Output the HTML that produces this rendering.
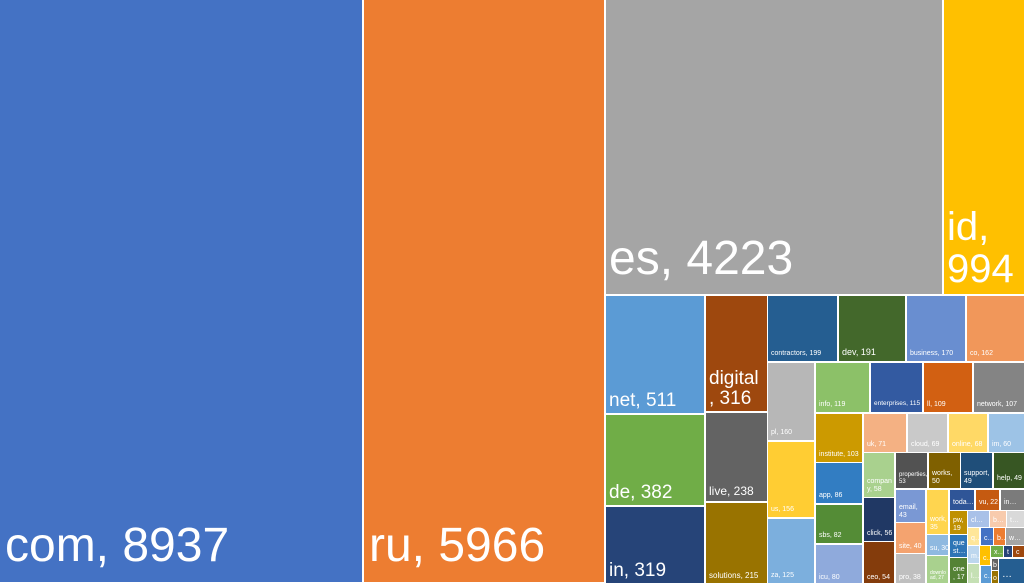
<!DOCTYPE html>
<html><head><meta charset="utf-8"><style>
body{margin:0;background:#fff;}
#c{position:relative;width:1024px;height:583px;overflow:hidden;background:#fff;font-family:"Liberation Sans",sans-serif;}
.r{position:absolute;box-sizing:border-box;color:#fff;display:flex;align-items:flex-end;padding:0 0 1px 3px;line-height:1.05;overflow:hidden;font-size:7px;white-space:nowrap;}
</style></head><body><div id="c">
<div class="r" style="left:0;top:0;width:362px;height:582px;background:#4472C4;font-size:48px;padding-left:5px;padding-bottom:11px">com, 8937</div>
<div class="r" style="left:364px;top:0;width:240px;height:582px;background:#ED7D31;font-size:48px;padding-left:5px;padding-bottom:11px">ru, 5966</div>
<div class="r" style="left:606px;top:0;width:336px;height:294px;background:#A5A5A5;font-size:48px;padding-left:3px;padding-bottom:10px">es, 4223</div>
<div class="r" style="left:944px;top:0;width:80px;height:294px;background:#FFC000;font-size:40px;padding-left:3px;padding-bottom:4px">id,<br>994</div>
<div class="r" style="left:606px;top:296px;width:98px;height:117px;background:#5B9BD5;font-size:19px;padding-bottom:2px">net, 511</div>
<div class="r" style="left:606px;top:415px;width:98px;height:90px;background:#70AD47;font-size:19px;padding-bottom:2px">de, 382</div>
<div class="r" style="left:606px;top:507px;width:98px;height:76px;background:#264478;font-size:19px;padding-bottom:2px">in, 319</div>
<div class="r" style="left:706px;top:296px;width:61px;height:115px;background:#9E480E;font-size:19px;padding-bottom:2px">digital<br>, 316</div>
<div class="r" style="left:706px;top:413px;width:61px;height:88px;background:#636363;font-size:12px;padding-bottom:3px">live, 238</div>
<div class="r" style="left:706px;top:503px;width:61px;height:80px;background:#997300;font-size:8px;padding-bottom:3px">solutions, 215</div>
<div class="r" style="left:768px;top:296px;width:69px;height:65px;background:#255E91;padding-bottom:4px">contractors, 199</div>
<div class="r" style="left:839px;top:296px;width:66px;height:65px;background:#43682B;font-size:9px;padding-bottom:4px">dev, 191</div>
<div class="r" style="left:907px;top:296px;width:58px;height:65px;background:#698ED0;padding-bottom:4px">business, 170</div>
<div class="r" style="left:967px;top:296px;width:57px;height:65px;background:#F1975A;padding-bottom:4px">co, 162</div>
<div class="r" style="left:768px;top:363px;width:46px;height:77px;background:#B7B7B7;padding-bottom:4px">pl, 160</div>
<div class="r" style="left:768px;top:442px;width:46px;height:75px;background:#FFCD33;padding-bottom:4px">us, 156</div>
<div class="r" style="left:768px;top:519px;width:46px;height:64px;background:#7CAFDD;padding-bottom:4px">za, 125</div>
<div class="r" style="left:816px;top:363px;width:53px;height:49px;background:#8CC168;padding-bottom:4px">info, 119</div>
<div class="r" style="left:871px;top:363px;width:51px;height:49px;background:#335AA1;font-size:6.5px;padding-bottom:4px">enterprises, 115</div>
<div class="r" style="left:924px;top:363px;width:48px;height:49px;background:#D26012;padding-bottom:4px">ll, 109</div>
<div class="r" style="left:974px;top:363px;width:50px;height:49px;background:#848484;padding-bottom:4px">network, 107</div>
<div class="r" style="left:816px;top:414px;width:46px;height:48px;background:#CC9A00;padding-bottom:4px">institute, 103</div>
<div class="r" style="left:816px;top:463px;width:46px;height:40px;background:#327DC2;padding-bottom:4px">app, 86</div>
<div class="r" style="left:816px;top:505px;width:46px;height:38px;background:#548C36;padding-bottom:4px">sbs, 82</div>
<div class="r" style="left:816px;top:545px;width:46px;height:38px;background:#8FAADC;padding-bottom:2px">icu, 80</div>
<div class="r" style="left:864px;top:414px;width:42px;height:38px;background:#F4B183;padding-bottom:4px">uk, 71</div>
<div class="r" style="left:908px;top:414px;width:39px;height:38px;background:#C9C9C9;padding-bottom:4px">cloud, 69</div>
<div class="r" style="left:949px;top:414px;width:38px;height:38px;background:#FFD966;padding-bottom:4px">online, 68</div>
<div class="r" style="left:989px;top:414px;width:35px;height:38px;background:#9DC3E6;padding-bottom:4px">im, 60</div>
<div class="r" style="left:864px;top:453px;width:30px;height:44px;background:#A9D18E;padding-bottom:4px">compan<br>y, 58</div>
<div class="r" style="left:864px;top:498px;width:30px;height:43px;background:#203864;padding-bottom:4px">click, 56</div>
<div class="r" style="left:864px;top:542px;width:30px;height:41px;background:#843C0C;padding-bottom:2px">ceo, 54</div>
<div class="r" style="left:896px;top:453px;width:31px;height:35px;background:#525252;font-size:6px;padding-bottom:3px">properties,<br>53</div>
<div class="r" style="left:929px;top:453px;width:31px;height:35px;background:#7F6000;padding-bottom:3px">works,<br>50</div>
<div class="r" style="left:961px;top:453px;width:31px;height:35px;background:#1F4E79;padding-bottom:3px">support,<br>49</div>
<div class="r" style="left:994px;top:453px;width:30px;height:35px;background:#375623;padding-bottom:6px">help, 49</div>
<div class="r" style="left:896px;top:490px;width:29px;height:32px;background:#7A98D4;padding-bottom:3px">email,<br>43</div>
<div class="r" style="left:896px;top:523px;width:29px;height:30px;background:#F4A36F;padding-bottom:3px">site, 40</div>
<div class="r" style="left:896px;top:554px;width:29px;height:29px;background:#BFBFBF;padding-bottom:2px">pro, 38</div>
<div class="r" style="left:927px;top:490px;width:21px;height:44px;background:#FFD54F;padding-bottom:3px">work,<br>35</div>
<div class="r" style="left:927px;top:535px;width:21px;height:20px;background:#8FB9E0;padding-bottom:3px">su, 30</div>
<div class="r" style="left:927px;top:556px;width:21px;height:27px;background:#A9D18E;font-size:5px;padding-bottom:2px">downlo<br>ad, 27</div>
<div class="r" style="left:950px;top:490px;width:24px;height:20px;background:#2F5597;padding-bottom:4px">toda…</div>
<div class="r" style="left:976px;top:490px;width:23px;height:20px;background:#C55A11;padding-bottom:4px">vu, 22</div>
<div class="r" style="left:1001px;top:490px;width:23px;height:20px;background:#7B7B7B;padding-bottom:4px">in…</div>
<div class="r" style="left:950px;top:511px;width:17px;height:23px;background:#BF9000;padding-bottom:2px">pw,<br>19</div>
<div class="r" style="left:950px;top:535px;width:17px;height:22px;background:#2E75B6;padding-bottom:2px">que<br>st…</div>
<div class="r" style="left:950px;top:558px;width:17px;height:25px;background:#548235;padding-bottom:2px">one<br>, 17</div>
<div class="r" style="left:968px;top:511px;width:21px;height:16px;background:#A9C1E8;padding-bottom:3px">cl…</div>
<div class="r" style="left:990px;top:511px;width:16px;height:16px;background:#F8CBAD;padding-bottom:3px">b…</div>
<div class="r" style="left:1007px;top:511px;width:17px;height:16px;background:#D9D9D9;padding-bottom:3px">t…</div>
<div class="r" style="left:968px;top:528px;width:11px;height:17px;background:#FFE699;padding-bottom:3px">q…</div>
<div class="r" style="left:981px;top:528px;width:12px;height:17px;background:#4472C4;padding-bottom:3px">c…</div>
<div class="r" style="left:994px;top:528px;width:11px;height:17px;background:#ED7D31;padding-bottom:3px">b…</div>
<div class="r" style="left:1006px;top:528px;width:18px;height:17px;background:#A5A5A5;padding-bottom:3px">w…</div>
<div class="r" style="left:968px;top:546px;width:11px;height:17px;background:#BDD7EE;padding-bottom:3px">m…</div>
<div class="r" style="left:980px;top:546px;width:10px;height:19px;background:#FFC000;padding-bottom:3px">c…</div>
<div class="r" style="left:991px;top:546px;width:12px;height:11px;background:#70AD47;padding-bottom:1px">x…</div>
<div class="r" style="left:1004px;top:546px;width:8px;height:11px;background:#264478;padding-bottom:1px">t</div>
<div class="r" style="left:1013px;top:546px;width:11px;height:11px;background:#9E480E;padding-bottom:1px">c</div>
<div class="r" style="left:968px;top:564px;width:11px;height:19px;background:#C5E0B4;padding-bottom:3px">l…</div>
<div class="r" style="left:981px;top:566px;width:10px;height:17px;background:#5B9BD5;padding-bottom:3px">c…</div>
<div class="r" style="left:992px;top:559px;width:6px;height:11px;background:#636363;padding-left:1px">b</div>
<div class="r" style="left:992px;top:571px;width:6px;height:12px;background:#997300;padding-left:1px">o</div>
<div class="r" style="left:999px;top:559px;width:25px;height:24px;background:#255E91;font-size:10px;padding-bottom:3px">…</div>
</div></body></html>
